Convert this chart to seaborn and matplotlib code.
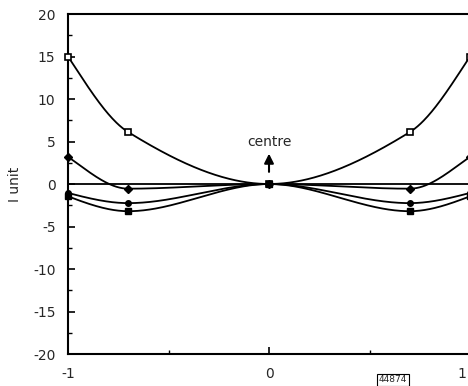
import numpy as np
import pandas as pd
import matplotlib
matplotlib.use("Agg")
import matplotlib.pyplot as plt
import seaborn as sns

# ---- data ----
x_pos = [-1.0, -0.7, 0.0, 0.7, 1.0]
curve_a = [15.0, 6.1, 0.0, 6.1, 15.0]      # open squares
curve_b = [3.2, -0.55, 0.0, -0.55, 3.2]    # diamonds
curve_c = [-1.05, -2.25, 0.0, -2.25, -1.05]  # small dots
curve_d = [-1.45, -3.2, 0.0, -3.2, -1.45]  # filled squares
y_ticks = [-20, -15, -10, -5, 0, 5, 10, 15, 20]
x_ticks = [-1, 0, 1]
x_tick_labels = ['-1', '0', '1']
annotation = "centre"
ylabel = "I unit"
code_label = "44874"


def pchip(xk, yk, xs):
    xk = np.asarray(xk, float); yk = np.asarray(yk, float)
    h = np.diff(xk); d = np.diff(yk) / h
    n = len(xk); m = np.zeros(n)
    for k in range(1, n - 1):
        if d[k - 1] * d[k] <= 0:
            m[k] = 0.0
        else:
            w1 = 2 * h[k] + h[k - 1]; w2 = h[k] + 2 * h[k - 1]
            m[k] = (w1 + w2) / (w1 / d[k - 1] + w2 / d[k])
    def endslope(h0, h1, d0, d1):
        s = ((2 * h0 + h1) * d0 - h0 * d1) / (h0 + h1)
        if np.sign(s) != np.sign(d0):
            s = 0.0
        elif np.sign(d0) != np.sign(d1) and abs(s) > abs(3 * d0):
            s = 3 * d0
        return s
    m[0] = endslope(h[0], h[1], d[0], d[1])
    m[-1] = endslope(h[-1], h[-2], d[-1], d[-2])
    out = np.empty_like(xs)
    idx = np.clip(np.searchsorted(xk, xs) - 1, 0, n - 2)
    for i, x in enumerate(xs):
        k = idx[i]; t = (x - xk[k]) / h[k]
        h00 = 2 * t**3 - 3 * t**2 + 1; h10 = t**3 - 2 * t**2 + t
        h01 = -2 * t**3 + 3 * t**2; h11 = t**3 - t**2
        out[i] = h00 * yk[k] + h10 * h[k] * m[k] + h01 * yk[k + 1] + h11 * h[k] * m[k + 1]
    return out


sns.set_style("ticks")
plt.rcParams['font.family'] = ['DejaVu Sans']

fig = plt.figure(figsize=(4.68, 3.86), dpi=100)
ax = fig.add_axes([0.1453, 0.0829, 0.859, 0.8808])

xs = np.linspace(-1, 1, 400)
series = [
    (curve_a, dict(marker='s', ms=5, mfc='white', mec='black', mew=1.2)),
    (curve_b, dict(marker='D', ms=4, mfc='black', mec='black')),
    (curve_c, dict(marker='o', ms=4, mfc='black', mec='black')),
    (curve_d, dict(marker='s', ms=5, mfc='black', mec='black')),
]
ax.axhline(0, color='black', lw=1.3, zorder=1)
for vals, mk in series:
    df = pd.DataFrame({"x": xs, "y": pchip(x_pos, vals, xs)})
    sns.lineplot(data=df, x="x", y="y", ax=ax, color='black', lw=1.3, zorder=2)
    ax.plot(x_pos, vals, linestyle='none', zorder=3, clip_on=False, **mk)

ax.set_xlim(-1, 1)
ax.set_ylim(-20, 20)
ax.set_xticks(x_ticks)
# last tick label sits at the figure edge; draw it slightly inward
ax.set_xticklabels(x_tick_labels[:-1] + [''])
ax.annotate(x_tick_labels[-1], xy=(x_ticks[-1], 0), xycoords=('data', 'axes fraction'),
            xytext=(-3, -9), textcoords='offset points', ha='right', va='top', fontsize=10)
ax.set_yticks(y_ticks)
ax.set_yticklabels([str(v) for v in y_ticks])
ax.set_xticks([-0.5, 0.5], minor=True)
ax.set_yticks(np.arange(-17.5, 20, 5), minor=True)
ax.tick_params(axis='both', which='both', direction='in', labelsize=10, color='black')
ax.tick_params(axis='y', which='major', length=5, width=1.2, pad=9)
ax.tick_params(axis='y', which='minor', length=3, width=1.0)
ax.tick_params(axis='x', which='major', length=5, width=1.2, pad=9)
ax.tick_params(axis='x', which='minor', length=3, width=1.0)
ax.set_xlabel("")
ax.set_ylabel(ylabel, fontsize=10, labelpad=8)
for s in ['left', 'bottom', 'top']:
    ax.spines[s].set_visible(True)
    ax.spines[s].set_linewidth(1.5)
    ax.spines[s].set_color('black')
ax.spines['right'].set_visible(False)

ax.annotate("", xy=(0, 3.9), xytext=(0, 1.1),
            arrowprops=dict(arrowstyle='-|>', color='black', lw=1.5, mutation_scale=14))
ax.text(0, 4.9, annotation, ha='center', va='center', fontsize=10)

fig.text(0.84, 0.016, code_label, ha='center', va='center', fontsize=6.5,
         bbox=dict(boxstyle='square,pad=0.2', fc='white', ec='black', lw=0.8))

fig.savefig("out.png", dpi=100)
